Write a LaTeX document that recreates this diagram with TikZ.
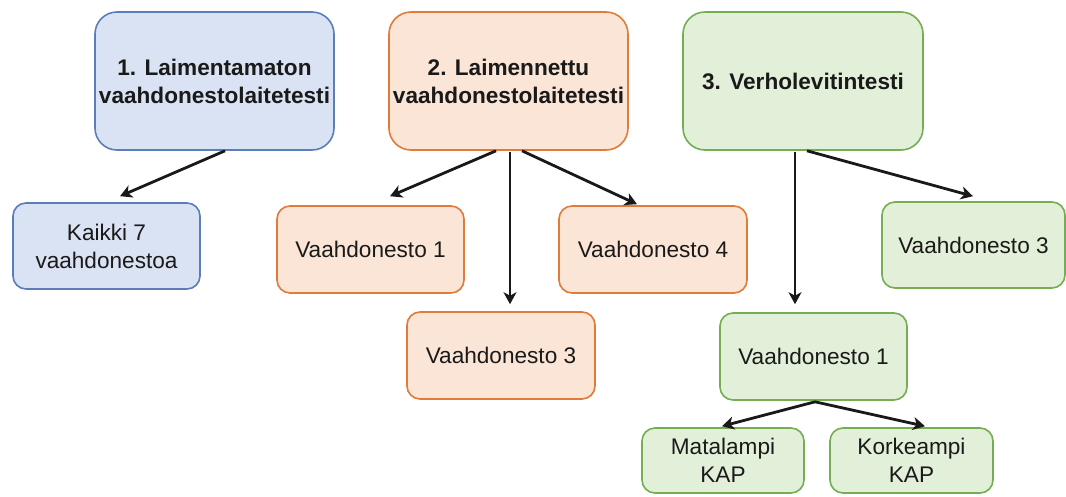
\documentclass[tikz,border=0pt]{standalone}
\usepackage{fontspec}
\setmainfont{Liberation Sans}
\usetikzlibrary{calc,arrows.meta}
\definecolor{bfill}{HTML}{DAE3F3}
\definecolor{bline}{HTML}{5B7DB8}
\definecolor{ofill}{HTML}{FBE5D6}
\definecolor{oline}{HTML}{E07B39}
\definecolor{gfill}{HTML}{E2F0D9}
\definecolor{gline}{HTML}{74AD52}
\definecolor{txt}{HTML}{1A1A1A}
\tikzset{
  x=1pt, y=-1pt,
  basebox/.style={rectangle, line width=1.6pt, align=center, inner sep=0pt,
    text=txt, font=\fontsize{22.6}{28}\selectfont},
  bigbox/.style={basebox, rounded corners=22pt, font=\fontsize{22.6}{28}\selectfont\bfseries},
  smallbox/.style={basebox, rounded corners=13pt},
  blue/.style={draw=bline, fill=bfill},
  orange/.style={draw=oline, fill=ofill},
  green/.style={draw=gline, fill=gfill},
  conn/.style={line width=2.8pt, draw=black!90, -{Stealth[length=12pt,width=13pt,inset=3.5pt]}},
}
\begin{document}
\begin{tikzpicture}
\useasboundingbox (0,0) rectangle (1066,496);
% top boxes
\node[bigbox,blue,minimum width=239pt,minimum height=138pt] (b1) at (214.5,81) {1. Laimentamaton\\vaahdonestolaitetesti};
\node[bigbox,orange,minimum width=239pt,minimum height=138pt] (b2) at (508.5,81) {2. Laimennettu\\vaahdonestolaitetesti};
\node[bigbox,green,minimum width=240pt,minimum height=138pt] (b3) at (803,81) {3. Verholevitintesti};
% children
\node[smallbox,blue,minimum width=187pt,minimum height=86pt] (k) at (106.5,246) {Kaikki 7\\vaahdonestoa};
\node[smallbox,orange,minimum width=187pt,minimum height=87pt] (o1) at (370.5,249.5) {Vaahdonesto 1};
\node[smallbox,orange,minimum width=188pt,minimum height=87pt] (o4) at (653,249.5) {Vaahdonesto 4};
\node[smallbox,orange,minimum width=188pt,minimum height=87pt] (o3) at (501,355.5) {Vaahdonesto 3};
\node[smallbox,green,minimum width=183pt,minimum height=86pt] (g3) at (973.5,245) {Vaahdonesto 3};
\node[smallbox,green,minimum width=187pt,minimum height=87pt] (g1) at (813.5,356.5) {Vaahdonesto 1};
\node[smallbox,green,minimum width=162pt,minimum height=65pt] (m) at (723,460.5) {Matalampi\\KAP};
\node[smallbox,green,minimum width=163pt,minimum height=65pt] (kk) at (911.5,460.5) {Korkeampi\\KAP};
% connectors
\draw[conn] ($(b1.south)+(10.5,0)$) -- ($(k.north)+(13.5,-6)$);
\draw[conn] ($(b2.south)+(-12.5,0)$) -- ($(o1.north)+(19.5,-9)$);
\draw[conn] ($(b2.south)+(1.5,1)$) -- ($(o3.north)+(9,-7)$);
\draw[conn] ($(b2.south)+(13.5,0)$) -- ($(o4.north)+(-16,-1)$);
\draw[conn] ($(b3.south)+(-8,1)$) -- ($(g1.north)+(-18.5,-8)$);
\draw[conn] ($(b3.south)+(4,0)$) -- ($(g3.north)+(-0.5,-5)$);
\draw[conn] ($(g1.south)+(1.5,1)$) -- ($(m.north)+(-1,-1)$);
\draw[conn] ($(g1.south)+(1.5,1)$) -- ($(kk.north)+(13.5,-1)$);
\end{tikzpicture}
\end{document}
